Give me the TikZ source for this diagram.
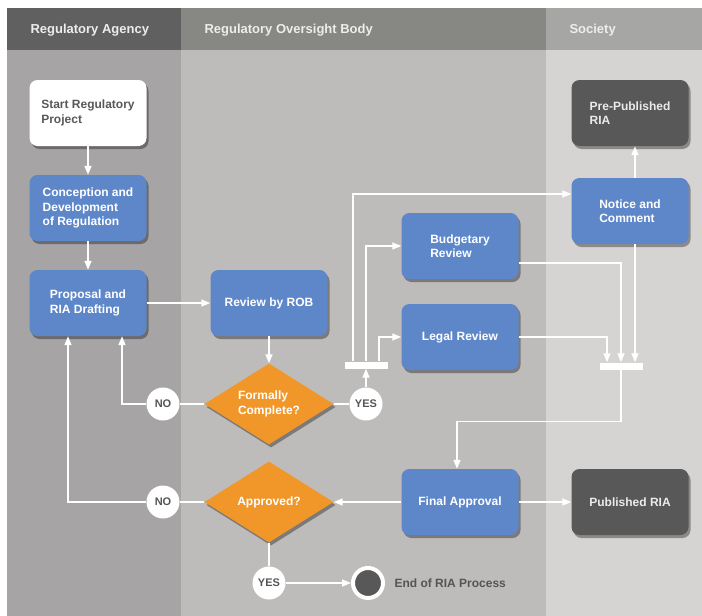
\documentclass[tikz,border=0pt]{standalone}
\usepackage{fontspec}
\setmainfont{Liberation Sans}
\usetikzlibrary{shapes.geometric,arrows.meta,shadows,positioning}

\definecolor{laneAhead}{RGB}{96,96,96}
\definecolor{laneAbody}{RGB}{166,164,164}
\definecolor{laneBhead}{RGB}{135,135,131}
\definecolor{laneBbody}{RGB}{190,187,187}
\definecolor{laneChead}{RGB}{166,166,164}
\definecolor{laneCbody}{RGB}{214,212,210}
\definecolor{taskblue}{RGB}{94,135,202}
\definecolor{darkbox}{RGB}{88,88,88}
\definecolor{choiceorange}{RGB}{241,151,41}
\definecolor{textgray}{RGB}{85,85,85}

\begin{document}
\begin{tikzpicture}[x=1pt, y=-1pt, >={Triangle[length=9pt,width=7pt,fill=white]}, node distance=95pt,
    flow/.style={draw=white, line width=1.5pt},
    shade box/.style={drop shadow={shadow xshift=2pt, shadow yshift=-3pt, opacity=.35, fill=black}},
    task node/.style={rectangle, rounded corners=8pt, fill=taskblue, text=white, minimum width=117pt, minimum height=66pt, align=left, font=\bfseries\fontsize{12}{14.5}\selectfont, shade box},
    start node/.style={task node, fill=white, text=darkbox},
    dark node/.style={task node, fill=darkbox, text=white!92!black},
    choice node/.style={diamond, aspect=1.6, fill=choiceorange, text=white, minimum width=129pt, minimum height=81pt, inner sep=1pt, align=left, font=\bfseries\fontsize{12}{14.5}\selectfont, shade box},
    answer node/.style={circle, fill=white, text=textgray, minimum size=33pt, inner sep=0pt, font=\bfseries\fontsize{11}{12}\selectfont},
    bar node/.style={rectangle, fill=white, minimum width=43pt, minimum height=7pt, inner sep=0pt},
    end node/.style={circle, fill=darkbox, draw=white, line width=4pt, minimum size=30pt, inner sep=0pt},
    lane title/.style={anchor=west, text=white!93!black, font=\bfseries\fontsize{13}{15}\selectfont}]

    \useasboundingbox (0,0) rectangle (702,616);

    % swim lanes
    \fill[laneAbody] (7,50) rectangle (181,616);
    \fill[laneBbody] (181,50) rectangle (546,616);
    \fill[laneCbody] (546,50) rectangle (702,616);
    \fill[laneAhead] (7,8) rectangle (181,50);
    \fill[laneBhead] (181,8) rectangle (546,50);
    \fill[laneChead] (546,8) rectangle (702,50);

    \node[lane title] (agency) at (27,30) {Regulatory Agency};
    \node[lane title] (oversight) at (201,30) {Regulatory Oversight Body};
    \node[lane title] (society) at (566,30) {Society};

    \node[start node] (start) at (88,113) {Start Regulatory\\Project};
    \node[task node] (concept) [below of = start] {Conception and\\Development\\of Regulation};
    \node[task node] (proposal) [below of = concept] {Proposal and\\RIA Drafting};
    \node[task node] (review) [right of = proposal, node distance=181pt] {Review by ROB};
    \node[choice node] (formal) [below of = review, node distance=101pt] {Formally\\Complete?};
    \node[answer node] (no1) [left of = formal, node distance=106pt] {NO};
    \node[answer node] (yes1) [right of = formal, node distance=97pt] {YES};
    \node[bar node] (fork) [above of = yes1, node distance=39pt] {};

    \node[task node] (legal) at (460,337) {Legal Review};
    \node[task node] (budget) [above of = legal, node distance=91pt] {Budgetary\\Review};
    \node[task node] (notice) at (630,211) {Notice and\\Comment};
    \node[dark node] (prepub) [above of = notice, node distance=98pt] {Pre-Published\\RIA};
    \node[bar node] (join) at (621,366) {};

    \node[task node] (final) at (460,502) {Final Approval};
    \node[dark node] (pub) [right of = final, node distance=170pt] {Published RIA};
    \node[choice node] (approved) [left of = final, node distance=191pt] {Approved?};
    \node[answer node] (no2) [left of = approved, node distance=106pt] {NO};
    \node[answer node] (yes2) [below of = approved, node distance=81pt] {YES};
    \node[end node] (finish) [right of = yes2, node distance=99pt] {};
    \node[anchor=west, text=textgray, font=\bfseries\fontsize{12}{14}\selectfont] (endlabel) [right=6pt of finish] {End of RIA Process};

    \path[flow, ->]
        (start) edge (concept)
        (concept) edge (proposal)
        (proposal) edge (review)
        (review) edge (formal)
        (yes1) edge (fork)
        (final) edge (approved)
        (final) edge (pub)
        (yes2) edge (finish)
    ;
    \path[flow]
        (formal) edge (no1)
        (formal) edge (yes1)
        (approved) edge (no2)
        (approved) edge (yes2)
    ;

    \draw[flow, ->] (no1) -| ([xshift=34pt]proposal.south);
    \draw[flow, ->] (no2) -| ([xshift=-20pt]proposal.south);
    \draw[flow, ->] ([xshift=-13pt]fork.north) |- ([yshift=17pt]notice.west);
    \draw[flow, ->] (fork.north) |- (budget.west);
    \draw[flow, ->] ([xshift=13pt]fork.north) |- (legal.west);
    \draw[flow, ->] ([yshift=-17pt]budget.east) -| (join.north);
    \draw[flow, ->] (legal.east) -| ([xshift=-14pt]join.north);
    \draw[flow, ->] ([xshift=5pt]notice.south) -- ([xshift=14pt]join.north);
    \draw[flow, ->] ([xshift=5pt]notice.north) -- ([xshift=5pt]prepub.south);
    \draw[flow, ->] (join.south) -- ++(0,52) -| ([xshift=-3pt]final.north);
\end{tikzpicture}
\end{document}
